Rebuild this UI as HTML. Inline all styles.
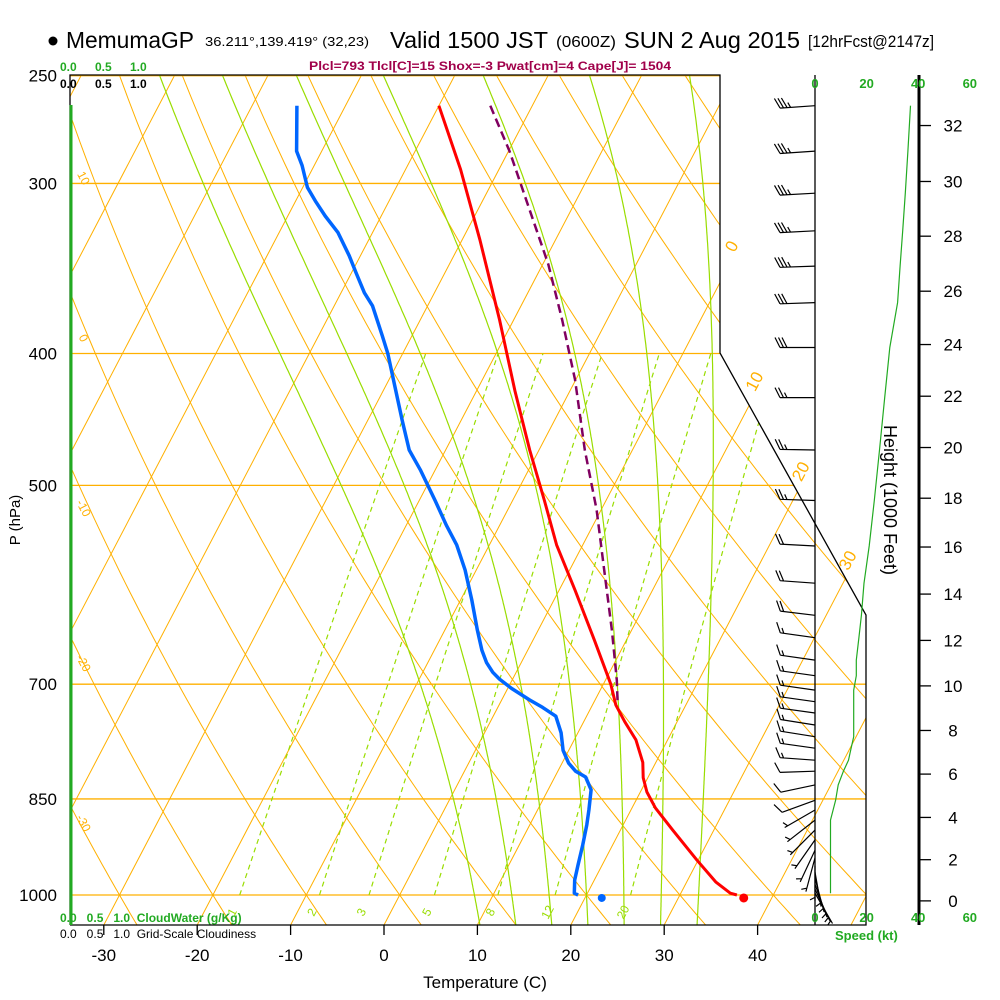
<!DOCTYPE html>
<html><head><meta charset="utf-8"><style>
html,body{margin:0;padding:0;background:#fff;}
svg{display:block;font-family:"Liberation Sans",sans-serif;}
</style></head><body>
<svg id="chart" width="1000" height="1000" viewBox="0 0 1000 1000" xmlns="http://www.w3.org/2000/svg">
<defs><clipPath id="plotclip"><polygon points="70,75 720,75 720,353 866,615 866,925 70,925"/></clipPath></defs>
<rect width="1000" height="1000" fill="#fff"/>
<g id="bg" clip-path="url(#plotclip)"></g>
<g id="fg"></g>
<g>
<circle cx="53" cy="41" r="4.5" fill="#000"/>
<text x="66" y="48" font-size="23" textLength="128" lengthAdjust="spacingAndGlyphs">MemumaGP</text>
<text x="205" y="46" font-size="13" textLength="164" lengthAdjust="spacingAndGlyphs">36.211°,139.419° (32,23)</text>
<text x="390" y="48" font-size="23" textLength="158" lengthAdjust="spacingAndGlyphs">Valid 1500 JST</text>
<text x="556" y="47" font-size="16" textLength="60" lengthAdjust="spacingAndGlyphs">(0600Z)</text>
<text x="624" y="48" font-size="23" textLength="176" lengthAdjust="spacingAndGlyphs">SUN 2 Aug 2015</text>
<text x="808" y="47" font-size="17" textLength="126" lengthAdjust="spacingAndGlyphs">[12hrFcst@2147z]</text>
<text x="490" y="70" font-size="12" font-weight="bold" fill="#a0004a" text-anchor="middle" textLength="362" lengthAdjust="spacingAndGlyphs">Plcl=793 Tlcl[C]=15 Shox=-3 Pwat[cm]=4 Cape[J]= 1504</text>
</g>
<g font-size="12" font-weight="bold">
<text x="60" y="71" fill="#22aa22">0.0</text>
<text x="95" y="71" fill="#22aa22">0.5</text>
<text x="130" y="71" fill="#22aa22">1.0</text>
<text x="60" y="88" fill="#000">0.0</text>
<text x="95" y="88" fill="#000">0.5</text>
<text x="130" y="88" fill="#000">1.0</text>
<text x="60" y="922" fill="#22aa22">0.0 &#160;&#160;0.5 &#160;&#160;1.0 &#160;CloudWater (g/Kg)</text>
<text x="60" y="938" fill="#000" font-weight="normal">0.0 &#160;&#160;0.5 &#160;&#160;1.0 &#160;Grid-Scale Cloudiness</text>
</g>
<text x="485" y="988" font-size="17" text-anchor="middle">Temperature (C)</text>
<text transform="translate(20,520) rotate(-90)" font-size="15" text-anchor="middle">P (hPa)</text>
<text transform="translate(884,500) rotate(90)" font-size="18" text-anchor="middle">Height (1000 Feet)</text>
<text x="835" y="940" font-size="13" font-weight="bold" fill="#22aa22">Speed (kt)</text>
</svg>
<script>
// ---- data arrays ----
const pressureTicks = [250,300,400,500,700,850,1000];
const tempTicks = [-30,-20,-10,0,10,20,30,40];
const tempP = [263,293,330,378,426,471,513,553,597,650,700,725,746,769,799,820,840,863,896,943,978,997,1000];
const tempT = [-40,-34.1,-28.1,-21.5,-15.9,-11,-6.6,-2.8,1.7,6.6,10.8,12.5,14.4,16.6,18.6,19.5,20.7,22.5,25.6,29.9,33.1,35.3,36.1];
const dewP = [263,284,291,302,309,317,326,339,349,361,369,388,400,422,448,471,487,513,535,553,577,607,639,661,675,686,694,705,719,728,739,760,783,800,811,819,837,866,888,919,950,975,997,1000];
const dewT = [-55.2,-52.7,-51.3,-49.5,-47.9,-46,-43.7,-41.2,-39.5,-37.5,-35.9,-33.2,-31.6,-29.1,-26.3,-23.9,-21.6,-18.3,-15.7,-13.5,-11.2,-8.8,-6.5,-4.9,-3.7,-2.5,-1.4,0.4,3,4.8,6.7,8.2,9.4,10.7,11.9,13.3,14.6,15.5,16.1,16.8,17.4,17.9,18.6,19.1];
const parcelP = [263,284,314,344,378,418,471,521,577,639,695,725];
const parcelT = [-34.5,-29.9,-24.4,-19.4,-14.8,-10.1,-5.1,-0.5,3.7,7.9,11.2,12.7];
const sfcT = 37.0, sfcTd = 21.8, sfcP = 1005;
const barbP = [263,284,305,325,345,367,396,431,471,513,554,590,623,647,672,690,707,721,735,750,765,780,796,811,830,852,866,881,896,911,927,939,952,962,972,982,990,997];
const barbDir = [266,266,267,267,268,268,270,270,271,272,273,274,277,278,278,278,278,278,278,279,279,278,274,268,258,250,240,232,225,215,205,195,180,170,165,160,155,150];
const barbSpd = [37,36,35,34,33,32,29,27,25,23,21,19,18,17,16,16,15,15,15,15,15,14,13,11,9,8,7,6,6,6,6,6,6,6,6,6,6,6];
const mixRatios = [1,2,3,5,8,12,20];
const heightTicks = [0,2,4,6,8,10,12,14,16,18,20,22,24,26,28,30,32];
const heightP = [1010,942,877,815,757,702,650,601,555,511,469,430,394,360,328,299,272];
const speedTicks = [0,20,40,60];
const isoLabelTemps = [0,10,20,30];
const isoLabelY = [243,378,468,557];
const isoTemps = []; for (let t=-110;t<=50;t+=10) isoTemps.push(t);
const dryThetas = []; for (let t=-30;t<=170;t+=10) dryThetas.push(t);
const moistThetas = [8,12,16,20,24,28,32];

// ---- axis functions ----
const NS="http://www.w3.org/2000/svg";
function yP(p){return 895-591*Math.log(1000/p);}
function pY(y){return 1000*Math.exp(-(895-y)/591);}
function xT(T,p){return 384+9.34*T+0.523*(925-yP(p));}
function xSpd(s){return 815+2.58*s;}
function mk(tag,attrs,parent){const e=document.createElementNS(NS,tag);for(const k in attrs)e.setAttribute(k,attrs[k]);parent.appendChild(e);return e;}
const bg=document.getElementById('bg'), fg=document.getElementById('fg');
const ORANGE="#ffb000", GREEN="#99dd00";
function pathFrom(pts){return pts.map((q,i)=>(i?'L':'M')+q[0].toFixed(1)+','+q[1].toFixed(1)).join(' ');}

pressureTicks.forEach(p=>{
  const l=mk('line',{x1:70,x2:870,y1:yP(p),y2:yP(p),stroke:ORANGE,'stroke-width':1.3},bg);
  
  
});
isoTemps.forEach(t=>{
  const l=mk('line',{x1:xT(t,1060),y1:yP(1060),x2:xT(t,240),y2:yP(240),stroke:ORANGE,'stroke-width':1},bg);
  
  
});
dryThetas.forEach(th=>{
  const pts=[];for(let p=1060;p>=240;p-=10){pts.push([xT((th+273.15)*Math.pow(p/1000,0.2857)-273.15,p),yP(p)]);}
  const e=mk('path',{d:pathFrom(pts),fill:'none',stroke:ORANGE,'stroke-width':1},bg);
  
  
});
function es(Tc){return 6.112*Math.exp(17.67*Tc/(Tc+243.5));}
function dTdp(T,p){const Tc=T-273.15;const e=es(Tc);const rs=0.622*e/(p-e);return (287*T+2.5e6*rs)/(p*(1004+2.5e6*2.5e6*rs*0.622/(287*T*T)));}
moistThetas.forEach(th=>{
  const up=[];let T=th+273.15;
  for(let p=1000;p>=240;p-=2){up.push([xT(T-273.15,p),yP(p)]);T-=dTdp(T,p)*2;}
  const dn=[];T=th+273.15;
  for(let p=1000;p<=1060;p+=2){dn.push([xT(T-273.15,p),yP(p)]);T+=dTdp(T,p)*2;}
  const pts=dn.reverse().concat(up);
  const e=mk('path',{d:pathFrom(pts),fill:'none',stroke:GREEN,'stroke-width':1.2},bg);
  
  
});
function tdFromW(w,p){const e=(w/1000)*p/(0.622+w/1000);const a=Math.log(e/6.112);return 243.5*a/(17.67-a);}
mixRatios.forEach(w=>{
  const pts=[];for(let p=1000;p>=400;p-=10)pts.push([xT(tdFromW(w,p),p),yP(p)]);
  const e=mk('path',{d:pathFrom(pts),fill:'none',stroke:GREEN,'stroke-width':1.2,'stroke-dasharray':'5,4'},bg);
  
  
  const x=xT(tdFromW(w,1000),1000)-4;
  const t=mk('text',{transform:`translate(${x.toFixed(1)},914) rotate(-62)`,'font-size':12,fill:GREEN,'text-anchor':'middle'},fg);
  t.textContent=String(w);
  
  
});
isoLabelTemps.forEach((t,i)=>{
  const ys=isoLabelY[i];
  const lb=mk('text',{transform:`translate(${(xT(t,pY(ys))-4).toFixed(1)},${ys+6}) rotate(-62)`,'font-size':17,fill:ORANGE,'text-anchor':'middle'},fg);
  lb.textContent=String(t);
  
  
});
[[10,180],[0,340],[-10,510],[-20,665],[-30,825]].forEach(a=>{
  const lb=mk('text',{transform:`translate(80,${a[1]}) rotate(62)`,'font-size':12,fill:ORANGE,'text-anchor':'middle'},fg);
  lb.textContent=String(a[0]);
  
  
});

const frame=mk('polyline',{points:'70,925 70,75 720,75 720,353 866,615 866,925 70,925',fill:'none',stroke:'#000','stroke-width':1.3},fg);


const cw=mk('line',{x1:71,y1:105,x2:71,y2:925,stroke:'#22aa22','stroke-width':3},fg);


const zeroLine=mk('line',{x1:815,y1:75,x2:815,y2:925,stroke:'#000','stroke-width':1.3},fg);


const hAxis=mk('line',{x1:919,y1:75,x2:919,y2:925,stroke:'#000','stroke-width':3},fg);



pressureTicks.forEach(p=>{
  const t=mk('text',{x:57,y:yP(p)+6,'font-size':17,'text-anchor':'end'},fg);
  t.textContent=String(p);
  
  
});
tempTicks.forEach(T=>{
  const x=384+9.34*T;
  const tk=mk('line',{x1:x,x2:x,y1:925,y2:935,stroke:'#000','stroke-width':1.3},fg);
  
  
  const t=mk('text',{x:x,y:961,'font-size':17,'text-anchor':'middle'},fg);
  t.textContent=String(T);
  
  
});
heightTicks.forEach((h,i)=>{
  const y=yP(heightP[i]);
  const tk=mk('line',{x1:919,x2:931,y1:y,y2:y,stroke:'#000','stroke-width':1.3},fg);
  
  
  const t=mk('text',{x:953,y:y+6,'font-size':17,'text-anchor':'middle'},fg);
  t.textContent=String(h);
  
  
});
speedTicks.forEach(s=>{
  [88,922].forEach(yy=>{
    const t=mk('text',{x:xSpd(s),y:yy,'font-size':13,'font-weight':'bold',fill:'#22aa22','text-anchor':'middle'},fg);
    t.textContent=String(s);
    
    
  });
});

function profile(P,T,color,w,name,dash){
  const pts=P.map((p,i)=>[xT(T[i],p),yP(p)]);
  const attrs={d:pathFrom(pts),fill:'none',stroke:color,'stroke-width':w,'stroke-linejoin':'round'};
  if(dash)attrs['stroke-dasharray']=dash;
  const e=mk('path',attrs,fg);
  
  
}
profile(parcelP,parcelT,'#800060',2.5,'parcel-path','9,5');
profile(dewP,dewT,'#0066ff',3.5,'dewpoint-line');
profile(tempP,tempT,'#ff0000',3,'temperature-line');
const sd=mk('circle',{cx:xT(sfcT,sfcP),cy:yP(sfcP),r:4.5,fill:'#ff0000'},fg);


const sdd=mk('circle',{cx:xT(sfcTd,sfcP),cy:yP(sfcP),r:4,fill:'#0066ff'},fg);



const spdPts=barbP.map((p,i)=>[xSpd(barbSpd[i]),yP(p)]);
const sp=mk('path',{d:pathFrom(spdPts),fill:'none',stroke:'#22aa22','stroke-width':1.2},fg);



barbP.forEach((p,i)=>{
  const y=yP(p), x=815, L=35;
  const a=barbDir[i]*Math.PI/180;
  const dx=Math.sin(a), dy=-Math.cos(a);
  const nx=-dy, ny=dx;
  const ex=x+dx*L, ey=y+dy*L;
  let d=`M${x},${y.toFixed(1)} L${ex.toFixed(1)},${ey.toFixed(1)}`;
  let s=Math.round(barbSpd[i]/5)*5, pos=0;
  while(s>=10){const bx=ex-dx*pos, by=ey-dy*pos;d+=` M${bx.toFixed(1)},${by.toFixed(1)} l${(dx*5+nx*10).toFixed(1)},${(dy*5+ny*10).toFixed(1)}`;pos+=3.5;s-=10;}
  if(s>=5){if(pos===0)pos=3.5;const bx=ex-dx*pos, by=ey-dy*pos;d+=` M${bx.toFixed(1)},${by.toFixed(1)} l${(dx*2.5+nx*5).toFixed(1)},${(dy*2.5+ny*5).toFixed(1)}`;}
  const b=mk('path',{d:d,fill:'none',stroke:'#000','stroke-width':1.2},fg);
  
  
});
</script>
</body></html>
